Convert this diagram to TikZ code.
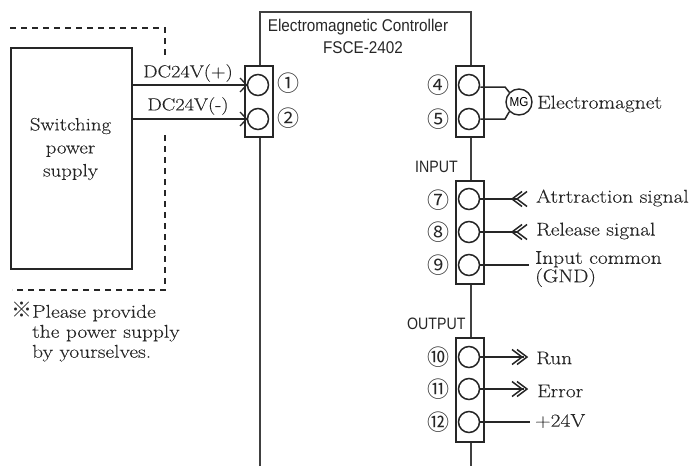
\documentclass[tikz,border=0pt]{standalone}
\usepackage{fontspec}
\setmainfont{Latin Modern Roman}[FakeStretch=1.16,FakeBold=0.12]
\newfontfamily\cjk{Noto Sans CJK JP}
\newfontfamily\lsans{Liberation Sans}[FakeStretch=0.9]
\newfontfamily\lsansn{Liberation Sans}[FakeStretch=0.86]
\usetikzlibrary{calc}
\tikzset{
 x=1pt,y=-1pt,
 wire/.style={line width=1.5pt,draw=black!85},
 body/.style={line width=1.3pt,draw=black!75},
 term/.style={draw=black!85,line width=1.5pt,fill=white,minimum width=28pt,inner sep=0pt,anchor=north west},
 hole/.style={circle,draw=black!85,line width=1.5pt,fill=white,minimum size=21pt,inner sep=0pt},
 num/.style={font=\cjk\fontsize{22}{22}\selectfont,text=black!85,inner sep=0pt},
 lab/.style={font=\fontsize{18.5}{18.5}\selectfont,text=black!85,inner sep=0pt,anchor=west},
 sans/.style={font=\lsans\fontsize{17}{17}\selectfont,text=black!85,inner sep=0pt},
 sansn/.style={font=\lsansn\fontsize{16.5}{16.5}\selectfont,text=black!85,inner sep=0pt,anchor=west},
 chev/.style={line width=1.5pt,draw=black!85},
 dashline/.style={line width=1.4pt,draw=black!85,dash pattern=on 6pt off 5pt}
}
\newcommand{\chevL}[2]{\draw[chev] (#1+10,#2-7.5)--(#1,#2)--(#1+10,#2+7.5);\draw[chev] (#1+15,#2-7.5)--(#1+5,#2)--(#1+15,#2+7.5);}
\newcommand{\chevR}[2]{\draw[chev] (#1-10,#2-7.5)--(#1,#2)--(#1-10,#2+7.5);\draw[chev] (#1-15,#2-7.5)--(#1-5,#2)--(#1-15,#2+7.5);}
\begin{document}
\begin{tikzpicture}
\useasboundingbox (0,0) rectangle (693,466);
% controller outline
\coordinate (cBL) at (260,466);
\coordinate (cTL) at (260,12);
\coordinate (cTR) at (471,12);
\coordinate (cBR) at (471,466);
\draw[body] (cBL)--(cTL)--(cTR)--(cBR);
% power
\node[draw=black!85,line width=1.5pt,minimum width=121pt,minimum height=221pt,inner sep=0pt,anchor=north west] (psu) at (10,47) {};
\node[font=\fontsize{18}{23}\selectfont,text=black!85,align=center,inner sep=0pt] (psut) at (70.5,149) {Switching\\power\\supply};
% dashed
\coordinate (d1) at (10,28); \coordinate (d2) at (165,28); \coordinate (d3) at (165,56);
\coordinate (d4) at (165,135); \coordinate (d5) at (165,290); \coordinate (d6) at (12,290);
\draw[dashline] (d1)--(d2)--(d3);
\draw[dashline] (d4)--(d5)--(d6);
% terminals
\node[term,minimum height=71pt] (tA) at (244,65) {};
\node[term,minimum height=71pt] (tB) at (455,65) {};
\node[term,minimum height=103pt] (tC) at (455,180) {};
\node[term,minimum height=104pt] (tD) at (455,337) {};
\node[hole] (h1) at (258,85) {};
\node[hole] (h2) at (258,119) {};
\node[hole] (h4) at (469,85) {};
\node[hole] (h5) at (469,119) {};
\node[hole] (h7) at (469,199) {};
\node[hole] (h8) at (469,232) {};
\node[hole] (h9) at (469,265) {};
\node[hole] (h10) at (469,357) {};
\node[hole] (h11) at (469,389) {};
\node[hole] (h12) at (469,422) {};
\node[num] at (288,83) {①};
\node[num] at (288,118) {②};
\node[num] at (438,85) {④};
\node[num] at (438,119) {⑤};
\node[num] at (438,200) {⑦};
\node[num] at (438,232) {⑧};
\node[num] at (438,265) {⑨};
\node[num] at (438,357) {⑩};
\node[num] at (438,389) {⑪};
\node[num] at (438,422) {⑫};
% supply wires
\draw[wire] (psu.north east |- h1.west)--(h1.west);
\draw[wire] (psu.north east |- h2.west)--(h2.west);
\coordinate (a1u) at (240,78); \coordinate (a1d) at (240,92);
\coordinate (a2u) at (240,112); \coordinate (a2d) at (240,126);
\draw[wire,line width=1.3pt] (a1u)--(h1.west)--(a1d);
\draw[wire,line width=1.3pt] (a2u)--(h2.west)--(a2d);
\node[lab,anchor=center,font=\fontsize{17.5}{17.5}\selectfont] at (188,73) {DC24V(+)};
\node[lab,anchor=center,font=\fontsize{17.5}{17.5}\selectfont] at (188,106) {DC24V(-)};
% MG
\node[circle,draw=black!85,line width=1.4pt,minimum size=26pt,inner sep=0pt,font=\lsans\fontsize{13}{13}\selectfont] (mg) at (519,102) {MG};
\coordinate (m1) at (505,87); \coordinate (m2) at (505,119);
\draw[wire] (h4.east |- m1)--(m1)--(mg.north west);
\draw[wire] (h5.east |- m2)--(m2)--(mg.south west);
\node[lab] at (537,104) {Electromagnet};
% inputs
\coordinate (i7) at (517,199); \coordinate (i8) at (517,232); \coordinate (i9) at (529,265);
\draw[wire] (h7.east)--(i7); \chevL{512}{199}
\draw[wire] (h8.east)--(i8); \chevL{512}{232}
\draw[wire] (h9.east)--(i9);
\node[lab] at (536,198) {Atrtraction signal};
\node[lab] at (536,231) {Release signal};
\node[lab,align=left,font=\fontsize{18.5}{16}\selectfont] at (535,269) {Input common\\(GND)};
% outputs
\coordinate (o10) at (524,357); \coordinate (o11) at (524,389); \coordinate (o12) at (530,422);
\draw[wire] (h10.east)--(o10); \chevR{527}{357}
\draw[wire] (h11.east)--(o11); \chevR{527}{389}
\draw[wire] (h12.east)--(o12);
\node[lab] at (536,358) {Run};
\node[lab] at (537,391) {Error};
\node[lab] at (535,421) {+24V};
% sans labels
\node[sans] at (358,27) {Electromagnetic Controller};
\node[sans] at (363,48) {FSCE-2402};
\node[sansn] at (415,167) {INPUT};
\node[sansn] at (407,324) {OUTPUT};
% note
\node[lab,align=left,font=\fontsize{18.5}{20}\selectfont,anchor=north west] at (11,302) {{\cjk\fontsize{21}{20}\selectfont ※}Please provide\\\hspace{21pt}the power supply\\\hspace{21pt}by yourselves.};
\end{tikzpicture}
\end{document}
